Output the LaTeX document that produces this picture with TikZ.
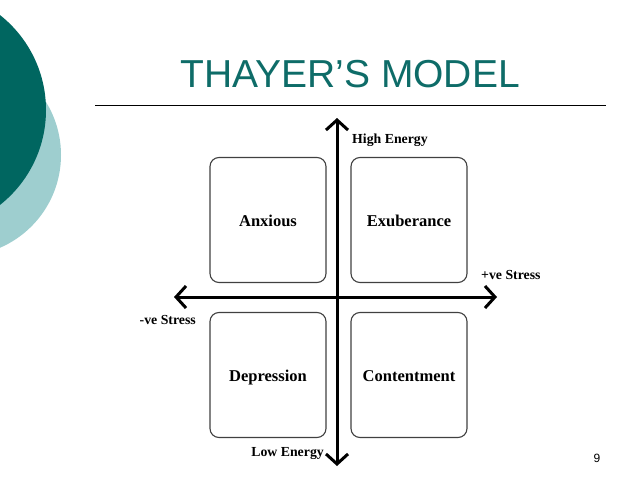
\documentclass[tikz,border=0pt]{standalone}
\usepackage{fontspec}
\setmainfont{Liberation Serif}
\newfontfamily\slidefont{Liberation Sans}
\usetikzlibrary{arrows.meta,positioning}
\definecolor{tealdark}{RGB}{0,102,96}
\definecolor{teallight}{RGB}{158,206,207}
\definecolor{titleteal}{RGB}{14,108,104}
\tikzstyle{quad} = [draw=black!75, line width=1.1pt, rounded corners=9pt,
    minimum width=116pt, minimum height=125pt, text height=15pt, text depth=3pt,
    font=\fontsize{16.5}{19}\selectfont\bfseries]
\tikzstyle{axislabel} = [font=\fontsize{13.8}{16}\selectfont\bfseries, inner sep=0pt]
\tikzstyle{axis} = [line width=3pt,
    {Straight Barb[length=10pt,width=22pt]}-{Straight Barb[length=10pt,width=22pt]}]

\begin{document}
\begin{tikzpicture}[x=1pt,y=-1pt]
      \useasboundingbox (0,0) rectangle (638,479);
      % slide decoration on the left
      \begin{scope}
        \clip (0,0) rectangle (638,479);
        \fill[teallight] (-40,155) circle (101pt);
        \fill[tealdark] (-75,110) circle (121pt);
      \end{scope}

      % title and rule
      \node[font=\slidefont\fontsize{39}{44}\selectfont, text=titleteal] (title) at (350,74) {THAYER’S MODEL};
      \coordinate (ruleleft) at (95,105);
      \coordinate (ruleright) at (606,105);
      \draw[line width=1pt] (ruleleft) -- (ruleright);

      % the four quadrants
      \node[quad] at (268,220) (anxious) {Anxious};
      \node[quad, right of=anxious, node distance=141pt] (exuberance) {Exuberance};
      \node[quad, below of=anxious, node distance=155pt] (depression) {Depression};
      \node[quad, right of=depression, node distance=141pt] (contentment) {Contentment};

      % axes
      \coordinate (energytop) at (337,118);
      \coordinate (energybottom) at (337,466);
      \coordinate (stressleft) at (174,297);
      \coordinate (stressright) at (497,297);
      \draw[axis] (stressleft) -- (stressright);
      \draw[axis] (energybottom) -- (energytop);

      \node[axislabel, anchor=west] at (352,140) (highenergy) {High Energy};
      \node[axislabel, anchor=west] at (481,275) (posstress) {+ve Stress};
      \node[axislabel, anchor=east] at (196,320) (negstress) {-ve Stress};
      \node[axislabel, anchor=east] at (324,454) (lowenergy) {Low Energy};

      \node[font=\slidefont\fontsize{12}{14}\selectfont] at (597,458) (pagenum) {9};
\end{tikzpicture}
\end{document}
